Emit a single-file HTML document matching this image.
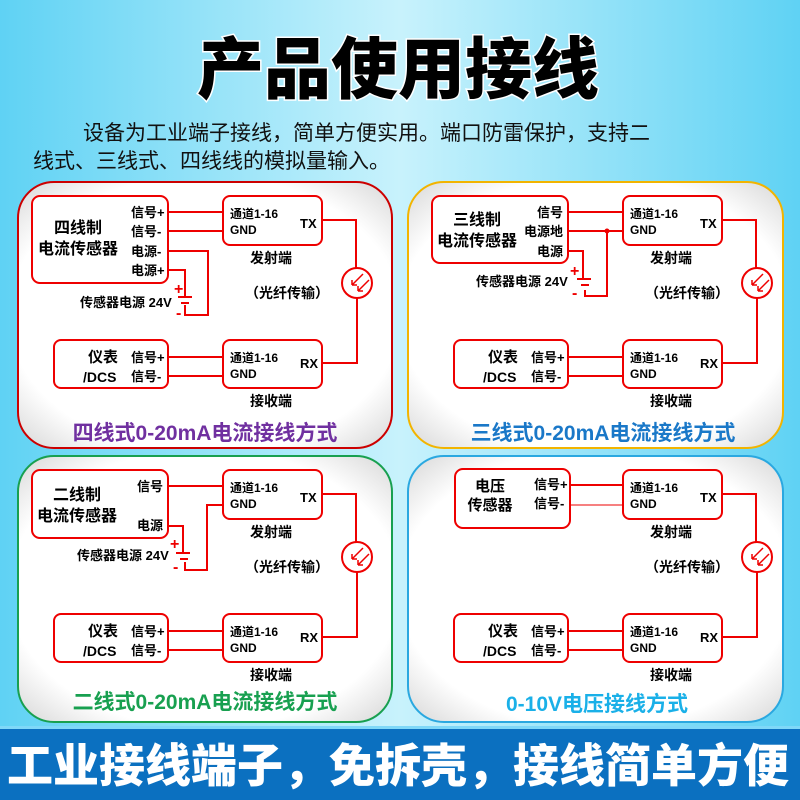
<!DOCTYPE html>
<html><head><meta charset="utf-8">
<style>
html,body{margin:0;padding:0;width:800px;height:800px;overflow:hidden}
svg text{font-family:"Liberation Sans","Noto Sans CJK SC",sans-serif;font-weight:bold}
</style></head><body>
<svg width="800" height="800" viewBox="0 0 800 800" xmlns="http://www.w3.org/2000/svg">
<defs>
<linearGradient id="bg" x1="0" y1="0" x2="1" y2="0">
<stop offset="0" stop-color="#5fd2f4"/><stop offset="0.5" stop-color="#c8f2fc"/><stop offset="1" stop-color="#5fd2f4"/>
</linearGradient>
<radialGradient id="pn" cx="0.5" cy="0.5" r="0.7">
<stop offset="0.75" stop-color="#ffffff"/><stop offset="1" stop-color="#d8d8d8"/>
</radialGradient>
<g id="fiber">
<rect x="0" y="0" width="99" height="49" rx="7" fill="#fff" stroke="#e00" stroke-width="2"/>
<text x="7" y="22" font-size="12">通道1-16</text>
<text x="7" y="38" font-size="12">GND</text>
<text x="77" y="32" font-size="13">TX</text>
<text x="27" y="67" font-size="14">发射端</text>
<polyline points="99,24 133,24 133,72" fill="none" stroke="#e00" stroke-width="2"/>
<circle cx="134" cy="87" r="15" fill="#fff" stroke="#e00" stroke-width="2"/>
<path d="M140,78 L129,89 M129,89 l0,-5 M129,89 l5,0 M146,84 L135,95 M135,95 l0,-5 M135,95 l5,0" stroke="#e00" stroke-width="1.5" fill="none"/>
<polyline points="134,102 134,167 99,167" fill="none" stroke="#e00" stroke-width="2"/>
<text x="22" y="102" font-size="14">（光纤传输）</text>
<rect x="0" y="144" width="99" height="48" rx="7" fill="#fff" stroke="#e00" stroke-width="2"/>
<text x="7" y="166" font-size="12">通道1-16</text>
<text x="7" y="182" font-size="12">GND</text>
<text x="77" y="172" font-size="13">RX</text>
<text x="27" y="210" font-size="14">接收端</text>
<rect x="-169" y="144" width="114" height="48" rx="7" fill="#fff" stroke="#e00" stroke-width="2"/>
<text x="-135" y="166" font-size="15">仪表</text>
<text x="-140" y="186" font-size="14">/DCS</text>
<text x="-92" y="166" font-size="13">信号+</text>
<text x="-92" y="185" font-size="13">信号-</text>
<line x1="-55" y1="161" x2="0" y2="161" stroke="#e00" stroke-width="2"/>
<line x1="-55" y1="180" x2="0" y2="180" stroke="#e00" stroke-width="2"/>
</g>
</defs>
<rect width="800" height="800" fill="url(#bg)"/>
<text x="398" y="93" font-size="67" text-anchor="middle" fill="#000" stroke="#fff" stroke-width="3" paint-order="stroke" style="font-weight:900">产品使用接线</text>
<text x="83" y="140" font-size="21" fill="#111" style="font-weight:normal">设备为工业端子接线，简单方便实用。端口防雷保护，支持二</text>
<text x="33" y="168" font-size="21" fill="#111" style="font-weight:normal">线式、三线式、四线线的模拟量输入。</text>

<rect x="18" y="182" width="374" height="266" rx="36" fill="url(#pn)" stroke="#c00" stroke-width="2"/>
<rect x="408" y="182" width="375" height="266" rx="36" fill="url(#pn)" stroke="#f2b400" stroke-width="2"/>
<rect x="18" y="456" width="374" height="266" rx="36" fill="url(#pn)" stroke="#18a050" stroke-width="2"/>
<rect x="408" y="456" width="375" height="266" rx="36" fill="url(#pn)" stroke="#2aa8e0" stroke-width="2"/>

<!-- Panel 1 -->
<use href="#fiber" x="223" y="196"/>
<rect x="32" y="196" width="136" height="87" rx="8" fill="#fff" stroke="#e00" stroke-width="2"/>
<text x="78" y="233" font-size="16" text-anchor="middle">四线制</text>
<text x="78" y="254" font-size="16" text-anchor="middle">电流传感器</text>
<text x="131" y="217" font-size="13">信号+</text>
<text x="131" y="236" font-size="13">信号-</text>
<text x="131" y="256" font-size="13">电源-</text>
<text x="131" y="275" font-size="13">电源+</text>
<g stroke="#e00" stroke-width="2" fill="none">
<line x1="168" y1="212" x2="223" y2="212"/>
<line x1="168" y1="231" x2="223" y2="231"/>
<polyline points="168,251 208,251 208,315 185,315 185,305"/>
<polyline points="168,270 185,270 185,296"/>
<line x1="178" y1="297" x2="192" y2="297"/>
<line x1="181" y1="303" x2="189" y2="303"/>
</g>
<text x="174" y="294" font-size="16" fill="#e00">+</text>
<text x="176" y="318" font-size="16" fill="#e00">-</text>
<text x="80" y="307" font-size="13">传感器电源 24V</text>
<text x="205" y="440" font-size="21" fill="#7030a0" text-anchor="middle">四线式0-20mA电流接线方式</text>

<!-- Panel 2 -->
<use href="#fiber" x="623" y="196"/>
<rect x="432" y="196" width="136" height="67" rx="8" fill="#fff" stroke="#e00" stroke-width="2"/>
<text x="477" y="225" font-size="16" text-anchor="middle">三线制</text>
<text x="477" y="246" font-size="16" text-anchor="middle">电流传感器</text>
<text x="537" y="217" font-size="13">信号</text>
<text x="524" y="236" font-size="13">电源地</text>
<text x="537" y="256" font-size="13">电源</text>
<g stroke="#e00" stroke-width="2" fill="none">
<line x1="568" y1="212" x2="623" y2="212"/>
<line x1="568" y1="231" x2="623" y2="231"/>
<polyline points="607,231 607,296 585,296 585,290"/>
<polyline points="568,251 583,251 583,279"/>
<line x1="577" y1="279" x2="591" y2="279"/>
<line x1="581" y1="285" x2="589" y2="285"/>
</g>
<circle cx="607" cy="231" r="2.5" fill="#e00"/>
<text x="570" y="276" font-size="16" fill="#e00">+</text>
<text x="572" y="298" font-size="16" fill="#e00">-</text>
<text x="476" y="286" font-size="13">传感器电源 24V</text>
<text x="603" y="440" font-size="21" fill="#1a78c8" text-anchor="middle">三线式0-20mA电流接线方式</text>

<!-- Panel 3 -->
<use href="#fiber" x="223" y="470"/>
<rect x="32" y="470" width="136" height="68" rx="8" fill="#fff" stroke="#e00" stroke-width="2"/>
<text x="77" y="500" font-size="16" text-anchor="middle">二线制</text>
<text x="77" y="521" font-size="16" text-anchor="middle">电流传感器</text>
<text x="137" y="491" font-size="13">信号</text>
<text x="137" y="530" font-size="13">电源</text>
<g stroke="#e00" stroke-width="2" fill="none">
<line x1="168" y1="486" x2="223" y2="486"/>
<polyline points="223,505 207,505 207,570 185,570 185,562"/>
<polyline points="168,526 183,526 183,553"/>
<line x1="176" y1="553" x2="190" y2="553"/>
<line x1="180" y1="559" x2="188" y2="559"/>
</g>
<text x="170" y="549" font-size="16" fill="#e00">+</text>
<text x="173" y="572" font-size="16" fill="#e00">-</text>
<text x="77" y="560" font-size="13">传感器电源 24V</text>
<text x="205" y="709" font-size="21" fill="#18a050" text-anchor="middle">二线式0-20mA电流接线方式</text>

<!-- Panel 4 -->
<use href="#fiber" x="623" y="470"/>
<rect x="455" y="469" width="115" height="59" rx="8" fill="#fff" stroke="#e00" stroke-width="2"/>
<text x="490" y="491" font-size="15" text-anchor="middle">电压</text>
<text x="490" y="510" font-size="15" text-anchor="middle">传感器</text>
<text x="534" y="489" font-size="13">信号+</text>
<text x="534" y="508" font-size="13">信号-</text>
<line x1="570" y1="485" x2="623" y2="485" stroke="#e00" stroke-width="2"/>
<line x1="570" y1="505" x2="623" y2="505" stroke="#e00" stroke-width="1"/>
<text x="597" y="711" font-size="21" fill="#1ab0e8" text-anchor="middle">0-10V电压接线方式</text>

<!-- bottom band -->
<rect x="0" y="728" width="800" height="72" fill="#0b70c0"/>
<rect x="0" y="726" width="800" height="3" fill="#7fd8f8"/>
<text x="398" y="782" font-size="46" fill="#fff" text-anchor="middle" style="font-weight:900">工业接线端子，免拆壳，接线简单方便</text>
</svg>
</body></html>
